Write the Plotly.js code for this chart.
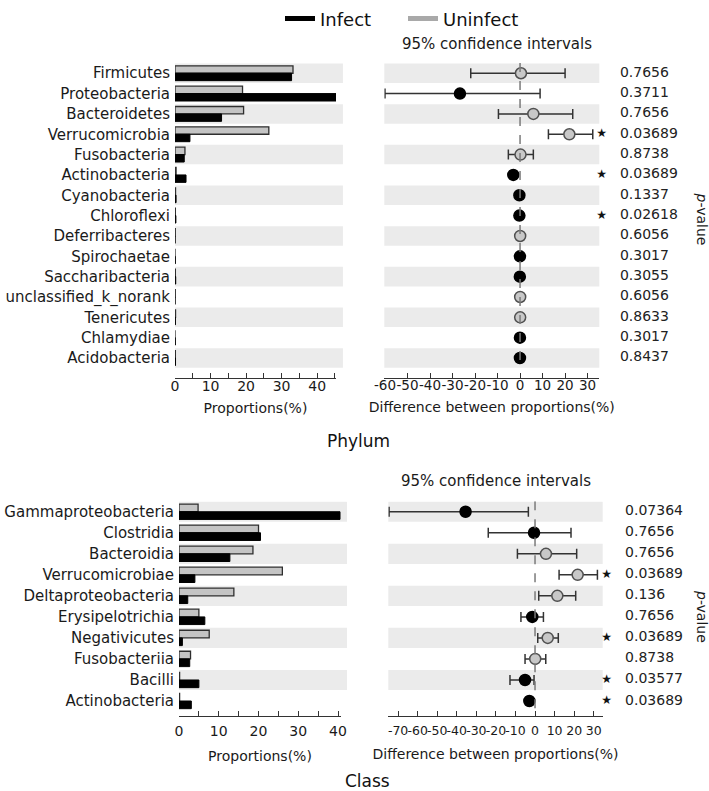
<!DOCTYPE html>
<html><head><meta charset="utf-8">
<script src="https://cdn.plot.ly/plotly-3.0.1.min.js"></script>
<style>html,body{margin:0;padding:0;background:#fff}#chart{width:709px;height:791px}</style>
</head><body><div id="chart"></div>
<script>
// ---------------- DATA ----------------
const seriesNames = ['Infect', 'Uninfect'];

const phylumNames = ['Firmicutes','Proteobacteria','Bacteroidetes','Verrucomicrobia','Fusobacteria','Actinobacteria','Cyanobacteria','Chloroflexi','Deferribacteres','Spirochaetae','Saccharibacteria','unclassified_k_norank','Tenericutes','Chlamydiae','Acidobacteria'];
const phylumInfect   = [32.8, 45.3, 13.1, 4.2, 2.6, 3.1, 0.3, 0.25, 0, 0.08, 0.2, 0, 0.1, 0.08, 0.15];
const phylumUninfect = [33.2, 19.0, 19.3, 26.4, 2.8, 0.3, 0.15, 0.1, 0.08, 0, 0.1, 0.08, 0.15, 0, 0.1];
const phylumDiff = [0.4, -26.7, 5.9, 21.9, 0.2, -3.0, -0.3, -0.3, 0.05, -0.05, -0.1, 0.05, 0.05, -0.05, -0.05];
const phylumLow  = [-21.9, -60.0, -9.6, 12.6, -5.2, -4.3, -1.0, -1.0, -0.9, -1.0, -1.0, -0.9, -0.9, -1.0, -1.0];
const phylumHigh = [20.0, 8.9, 23.4, 32.3, 5.9, -1.7, 0.5, 0.5, 1.0, 0.9, 0.9, 1.0, 1.0, 0.9, 0.9];
const phylumP = ['0.7656','0.3711','0.7656','0.03689','0.8738','0.03689','0.1337','0.02618','0.6056','0.3017','0.3055','0.6056','0.8633','0.3017','0.8437'];

const classNames = ['Gammaproteobacteria','Clostridia','Bacteroidia','Verrucomicrobiae','Deltaproteobacteria','Erysipelotrichia','Negativicutes','Fusobacteriia','Bacilli','Actinobacteria'];
const classInfect   = [40.5, 20.5, 12.8, 4.0, 2.2, 6.5, 0.85, 2.7, 5.0, 3.1];
const classUninfect = [4.8, 20.0, 18.6, 26.0, 13.8, 5.0, 7.6, 2.9, 0.15, 0.15];
const classDiff = [-35.5, -0.5, 5.6, 21.8, 11.4, -1.4, 6.5, 0.1, -5.1, -2.9];
const classLow  = [-74.6, -23.9, -9.0, 12.3, 1.9, -7.2, 1.4, -5.1, -12.8, -4.3];
const classHigh = [-3.4, 18.4, 21.3, 31.9, 20.8, 4.3, 11.9, 5.5, -0.5, -1.5];
const classP = ['0.07364','0.7656','0.7656','0.03689','0.136','0.7656','0.03689','0.8738','0.03577','0.03689'];

const phylumBarTicks = [0,5,10,15,20,25,30,35,40,45];
const phylumCiTicks  = [-60,-50,-40,-30,-20,-10,0,10,20,30,35];
const classBarTicks  = [0,5,10,15,20,25,30,35,40];
const classCiTicks   = [-75,-70,-60,-50,-40,-30,-20,-10,0,10,20,30,34.6];

const panelTitles = ['Phylum', 'Class'];
const ciTitle = '95% confidence intervals';
const barAxisTitle = 'Proportions(%)';
const ciAxisTitle = 'Difference between proportions(%)';
const pTitle = '<i>p</i>-value';

// ---------------- LAYOUT HELPERS ----------------
const W = 709, H = 791;
const FONT = 'DejaVu Sans, Verdana, sans-serif';
const px = v => v / W;
const py = v => 1 - v / H;
const tickLabel = v => (v % 10 === 0 ? (v < 0 ? '-' + Math.abs(v) : String(v)) : '');

const INFECT = '#000000', UNINF = '#c4c4c4', UNINF_LINE = '#2e2e2e';
const STRIPE = '#ebebeb';

const traces = [];
const shapes = [];

function buildPanel(o) {
  const idx = o.names.map((_, i) => i);
  traces.push({
    type: 'bar', orientation: 'h', y: idx, x: o.uninfect, xaxis: o.xb, yaxis: o.y,
    marker: {color: UNINF, line: {color: UNINF_LINE, width: 1.3}}, showlegend: false, name: seriesNames[1],
    hoverinfo: 'skip'
  });
  traces.push({
    type: 'bar', orientation: 'h', y: idx, x: o.infect, xaxis: o.xb, yaxis: o.y,
    marker: {color: INFECT, line: {color: INFECT, width: 1}}, showlegend: false, name: seriesNames[0],
    hoverinfo: 'skip'
  });
  traces.push({
    type: 'scatter', mode: 'markers', y: idx, x: o.diff, xaxis: o.xc, yaxis: o.y,
    error_x: {
      type: 'data', symmetric: false,
      array: o.high.map((h, i) => h - o.diff[i]),
      arrayminus: o.low.map((l, i) => o.diff[i] - l),
      color: '#333333', thickness: 1.5, width: 5
    },
    marker: {
      size: 11,
      color: o.diff.map(d => d < 0 ? INFECT : '#c8c8c8'),
      line: {color: o.diff.map(d => d < 0 ? INFECT : '#505050'), width: 1.5}
    },
    showlegend: false, hoverinfo: 'skip', cliponaxis: false
  });
  traces.push({
    type: 'scatter', mode: 'text', y: idx, x: idx.map(() => o.starX), xaxis: o.xp, yaxis: o.y,
    text: o.p.map(p => parseFloat(p) < 0.05 ? '★' : ''),
    textposition: 'middle center', textfont: {family: FONT, size: 12, color: '#111'},
    showlegend: false, hoverinfo: 'skip', cliponaxis: false
  });
  traces.push({
    type: 'scatter', mode: 'text', y: idx, x: idx.map(() => o.pX), xaxis: o.xp, yaxis: o.y,
    text: o.p, textposition: 'middle right', textfont: {family: FONT, size: 14, color: '#222'},
    showlegend: false, hoverinfo: 'skip', cliponaxis: false
  });
  idx.forEach(i => {
    if (i % 2 === 0) {
      shapes.push({type: 'rect', layer: 'below', xref: o.xb + ' domain', x0: 0, x1: o.barStripeEnd,
        yref: o.y, y0: i - 0.48, y1: i + 0.48, fillcolor: STRIPE, line: {width: 0}});
      shapes.push({type: 'rect', layer: 'below', xref: o.xc + ' domain', x0: 0, x1: 1,
        yref: o.y, y0: i - 0.48, y1: i + 0.48, fillcolor: STRIPE, line: {width: 0}});
    }
  });
  shapes.push({type: 'line', layer: 'above', xref: o.xc, x0: 0, x1: 0, yref: o.y,
    y0: -0.5, y1: idx.length - 0.5, line: {color: '#7a7a7a', width: 1.5, dash: 'dash'}});
}

buildPanel({names: phylumNames, infect: phylumInfect, uninfect: phylumUninfect, diff: phylumDiff,
  low: phylumLow, high: phylumHigh, p: phylumP, xb: 'x', xc: 'x2', xp: 'x3', y: 'y',
  barStripeEnd: 1.043, starX: 0.055, pX: 0.23});
buildPanel({names: classNames, infect: classInfect, uninfect: classUninfect, diff: classDiff,
  low: classLow, high: classHigh, p: classP, xb: 'x4', xc: 'x5', xp: 'x6', y: 'y2',
  barStripeEnd: 1.037, starX: 0.103, pX: 0.28});

traces.push({type: 'scatter', mode: 'lines', x: [null], y: [null], xaxis: 'x', yaxis: 'y',
  name: seriesNames[0], line: {color: '#000', width: 5}, showlegend: true, hoverinfo: 'skip'});
traces.push({type: 'scatter', mode: 'lines', x: [null], y: [null], xaxis: 'x', yaxis: 'y',
  name: seriesNames[1], line: {color: '#a9a9a9', width: 5}, showlegend: true, hoverinfo: 'skip'});

const titleFont = {family: FONT, size: 14, color: '#1a1a1a'};
function catAxis(names, domain, range, anchor) {
  return {domain, range, anchor, tickvals: names.map((_, i) => i), ticktext: names,
    showgrid: false, zeroline: false, showline: false, ticks: '', ticklabelstandoff: 4,
    tickfont: {family: FONT, size: 15, color: '#1a1a1a'}, fixedrange: true};
}
function numAxis(domain, range, anchor, ticks, title, fs, labelOff, titleOff) {
  return {domain, range, anchor, tickvals: ticks, ticktext: ticks.map(tickLabel), tickangle: 0,
    ticks: 'inside', ticklen: 5, tickwidth: 1.3, tickcolor: '#333', showline: true, linecolor: '#333', linewidth: 1.3,
    ticklabelstandoff: labelOff,
    showgrid: false, zeroline: false, tickfont: {family: FONT, size: fs, color: '#1a1a1a'},
    title: {text: title, font: titleFont, standoff: titleOff}, fixedrange: true};
}
function hidden(domain, anchor) {
  return {domain, anchor, range: [0, 1], visible: false, fixedrange: true};
}

const layout = {
  width: W, height: H, margin: {l: 0, r: 0, t: 0, b: 0},
  paper_bgcolor: '#fff', plot_bgcolor: 'rgba(0,0,0,0)',
  font: {family: FONT, color: '#222'},
  barmode: 'group', bargap: 0.27, bargroupgap: 0,
  showlegend: true,
  legend: {orientation: 'h', x: px(280), xanchor: 'left', y: py(10), yanchor: 'middle',
    font: {family: FONT, size: 18, color: '#111'}, itemwidth: 30, bgcolor: 'rgba(0,0,0,0)',
    entrywidth: 78, itemclick: false, itemdoubleclick: false},
  yaxis: catAxis(phylumNames, [py(373), py(54.7)], [14.972, -0.5], 'x'),
  xaxis: numAxis([px(175), px(336)], [0, 45.3], 'y', phylumBarTicks, barAxisTitle, 14, -5, 10),
  xaxis2: numAxis([px(384.3), px(599.3)], [-60.3, 35.2], 'y', phylumCiTicks, ciAxisTitle, 13.5, -5, 10),
  xaxis3: hidden([px(596), px(700)], 'y'),
  yaxis2: catAxis(classNames, [py(715.5), py(497.9)], [9.73, -0.5], 'x4'),
  xaxis4: numAxis([px(179), px(341)], [0, 40.75], 'y2', classBarTicks, barAxisTitle, 14, 2, 12),
  xaxis5: numAxis([px(388.3), px(602.7)], [-75, 34.6], 'y2', classCiTicks, ciAxisTitle, 12.5, 2, 12),
  xaxis6: hidden([px(596), px(700)], 'y2'),
  shapes,
  annotations: [
    {text: ciTitle, xref: 'paper', yref: 'paper', x: px(497), y: py(35), showarrow: false,
      font: {family: FONT, size: 15, color: '#1a1a1a'}, xanchor: 'center', yanchor: 'middle'},
    {text: ciTitle, xref: 'paper', yref: 'paper', x: px(496), y: py(477), showarrow: false,
      font: {family: FONT, size: 15, color: '#1a1a1a'}, xanchor: 'center', yanchor: 'middle'},
    {text: panelTitles[0], xref: 'paper', yref: 'paper', x: px(358), y: py(437), showarrow: false,
      font: {family: FONT, size: 17, color: '#111'}, xanchor: 'center', yanchor: 'middle'},
    {text: panelTitles[1], xref: 'paper', yref: 'paper', x: px(367), y: py(781), showarrow: false,
      font: {family: FONT, size: 17, color: '#111'}, xanchor: 'center', yanchor: 'middle'},
    {text: pTitle, xref: 'paper', yref: 'paper', x: px(702), y: py(212), showarrow: false, textangle: 90,
      font: {family: FONT, size: 14, color: '#1a1a1a'}, xanchor: 'center', yanchor: 'middle'},
    {text: pTitle, xref: 'paper', yref: 'paper', x: px(702), y: py(614), showarrow: false, textangle: 90,
      font: {family: FONT, size: 14, color: '#1a1a1a'}, xanchor: 'center', yanchor: 'middle'}
  ]
};

Plotly.newPlot('chart', traces, layout, {displayModeBar: false, responsive: false});
</script>
</body></html>
